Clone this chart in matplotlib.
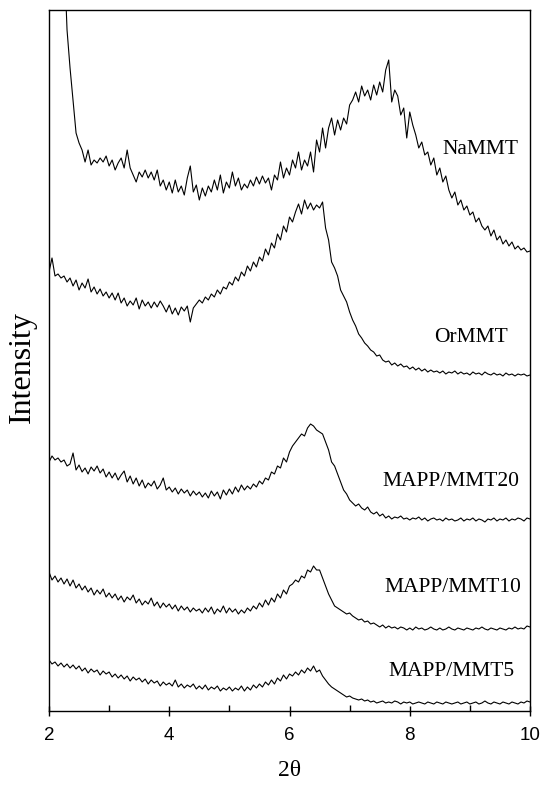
import matplotlib
matplotlib.use("Agg")
import matplotlib.pyplot as plt
import numpy as np

# XRD patterns, 2theta = 2..10 step 0.05 (rows of 10 = 0.5 deg each)
# intensities in arbitrary units, curves already offset as in the figure

na_mmt = [
    1400, 1300, 1150, 1000, 880, 760, 681, 643, 611, 578,
    568, 561, 549, 561, 546, 551, 548, 553, 549, 555,
    545, 551, 541, 548, 553, 543, 561, 543, 536, 529,
    539, 534, 541, 533, 539, 531, 541, 525, 531, 521,
    529, 518, 531, 519, 525, 516, 533, 545, 519, 526,
    511, 523, 515, 525, 519, 531, 521, 536, 518, 529,
    523, 539, 525, 533, 521, 527, 523, 531, 525, 534,
    527, 535, 528, 533, 521, 536, 531, 549, 533, 543,
    536, 551, 543, 559, 541, 551, 545, 559, 539, 571,
    559, 583, 563, 583, 593, 576, 591, 581, 593, 587,
    606, 611, 619, 609, 625, 615, 621, 611, 626, 616,
    629, 619, 641, 651, 609, 621, 615, 596, 603, 573,
    599, 586, 576, 563, 569, 556, 559, 546, 553, 536,
    543, 529, 535, 521, 513, 519, 506, 511, 501, 505,
    496, 499, 489, 493, 485, 481, 485, 475, 481, 471,
    475, 467, 471, 465, 469, 462, 465, 461, 463, 459,
    460,
]

or_mmt = [
    439, 453, 435, 437, 433, 435, 429, 433, 425, 431,
    421, 428, 423, 432, 419, 424, 417, 422, 415, 419,
    413, 418, 411, 418, 408, 413, 405, 410, 406, 413,
    402, 411, 405, 409, 403, 409, 404, 410, 405, 399,
    406, 397, 403, 396, 404, 400, 405, 389, 403, 407,
    411, 408, 414, 411, 417, 414, 421, 417, 424, 422,
    429, 426, 434, 430, 439, 435, 445, 440, 449, 444,
    454, 450, 462, 456, 468, 463, 477, 471, 485, 479,
    494, 489, 499, 507, 497, 511, 502, 508, 501, 506,
    503, 509, 483, 471, 449, 443, 435, 421, 415, 409,
    399, 391, 385, 377, 373, 368, 365, 361, 359, 355,
    356, 351, 349, 350, 346, 348, 345, 347, 344, 345,
    342, 344, 341, 343, 340, 342, 339, 341, 339, 340,
    338, 340, 337, 339, 338, 340, 337, 339, 337, 338,
    336, 339, 337, 338, 336, 339, 337, 336, 338, 336,
    337, 335, 338, 336, 337, 335, 337, 336, 337, 335,
    336,
]

mapp_mmt20 = [
    249, 255, 251, 253, 249, 251, 245, 247, 258, 241,
    246, 239, 243, 237, 244, 240, 245, 238, 242, 234,
    239, 233, 238, 231, 236, 240, 229, 235, 227, 233,
    225, 231, 223, 228, 225, 230, 222, 226, 233, 221,
    224, 219, 223, 217, 222, 218, 221, 215, 220, 216,
    219, 214, 218, 213, 220, 215, 219, 212, 221, 216,
    222, 217, 224, 219, 226, 221, 225, 222, 227, 224,
    230, 227, 233, 231, 239, 237, 245, 243, 253, 249,
    259, 265, 269, 273, 277, 275, 283, 287, 285, 281,
    279, 277, 269, 261, 249, 245, 237, 229, 221, 217,
    211, 208, 205, 207, 203, 201, 204, 199, 197, 199,
    195, 197, 193, 195, 192, 194, 193, 195, 192, 193,
    191, 193, 192, 194, 191, 193, 190, 192, 193, 191,
    192, 190, 193, 191, 192, 190, 191, 193, 190, 192,
    191, 193, 190, 192, 191, 189, 192, 191, 193, 190,
    192, 191, 193, 190, 192, 191, 193, 192, 190, 193,
    192,
]

mapp_mmt10 = [
    139, 131, 135, 129, 133, 127, 132, 125, 131, 123,
    127, 121, 125, 119, 123, 116, 121, 117, 122, 114,
    118, 113, 117, 111, 115, 109, 114, 111, 116, 108,
    112, 106, 110, 107, 113, 105, 109, 103, 108, 104,
    107, 102, 106, 100, 105, 101, 104, 99, 103, 100,
    102, 98, 103, 99, 104, 97, 102, 99, 105, 98,
    103, 99, 102, 97, 101, 98, 103, 100, 105, 102,
    108, 104, 111, 106, 113, 109, 117, 113, 121, 117,
    125, 127, 131, 129, 135, 133, 141, 139, 145, 141,
    141, 133, 125, 117, 111, 105, 103, 101, 99, 97,
    98, 95, 93, 91, 92, 89, 90, 87, 88, 86,
    84, 86, 83, 85, 83, 84, 82, 84, 83, 81,
    83, 81, 84, 82, 83, 81, 82, 84, 82, 81,
    83, 81, 82, 84, 82, 81, 83, 82, 81, 83,
    82, 81, 83, 82, 84, 82, 81, 83, 82, 81,
    83, 82, 81, 83, 82, 84, 82, 83, 82, 85,
    84,
]

mapp_mmt5 = [
    51, 47, 49, 45, 48, 44, 47, 43, 46, 42,
    45, 40, 43, 38, 42, 39, 41, 36, 40, 37,
    39, 34, 37, 33, 36, 32, 35, 30, 34, 31,
    33, 29, 32, 27, 31, 28, 30, 25, 29, 26,
    28, 25, 31, 24, 27, 23, 26, 24, 27, 22,
    25, 22, 26, 21, 24, 22, 25, 20, 23, 21,
    24, 20, 23, 21, 25, 20, 24, 21, 26, 23,
    27, 24, 29, 26, 31, 27, 33, 30, 36, 32,
    37, 35, 39, 36, 41, 38, 43, 40, 45, 39,
    41, 35, 31, 27, 24, 22, 20, 18, 16, 14,
    15, 13, 12, 11, 12, 10, 11, 9, 10, 8,
    9, 10, 8, 9, 8, 10, 9, 7, 9, 8,
    9, 7, 8, 9, 8, 7, 9, 8, 7, 9,
    8, 7, 9, 8, 7, 8, 9, 7, 8, 9,
    7, 8, 9, 7, 8, 10, 8, 7, 9, 8,
    7, 9, 8, 7, 9, 8, 7, 9, 8, 10,
    9,
]

series = [na_mmt, or_mmt, mapp_mmt20, mapp_mmt10, mapp_mmt5]
labels = ["NaMMT", "OrMMT", "MAPP/MMT20", "MAPP/MMT10", "MAPP/MMT5"]
label_pos = [(9.18, 561), (9.02, 374), (8.68, 230), (8.72, 123), (8.70, 39)]

serif = ["Liberation Serif", "DejaVu Serif"]
sans = ["Liberation Sans", "DejaVu Sans"]

fig = plt.figure(figsize=(5.44, 7.86), dpi=100)
ax = fig.add_axes([49 / 544, 75 / 786, 481 / 544, 701 / 786])

for ys in series:
    xs = 2 + 0.05 * np.arange(len(ys))
    ax.plot(xs, ys, color="black", lw=0.8)

for lab, (lx, ly) in zip(labels, label_pos):
    ax.text(lx, ly, lab, ha="center", va="center", fontsize=15.5, family=serif)

ax.set_xlim(2, 10)
ax.set_ylim(0, 701)
ax.set_xticks([2, 4, 6, 8, 10])
ax.set_xticks([3, 5, 7, 9], minor=True)
ax.set_yticks([])
ax.tick_params(axis="x", which="major", direction="inout", length=7, width=1,
               labelsize=13.5, pad=8)
ax.tick_params(axis="x", which="minor", direction="in", length=4, width=1)
for lbl in ax.get_xticklabels():
    lbl.set_family(sans)
for sp in ax.spines.values():
    sp.set_linewidth(1)

fig.text(290 / 544, 1 - 771 / 786, "2θ", ha="center", va="center", fontsize=17, family=serif)
fig.text(22 / 544, 1 - 367 / 786, "Intensity", ha="center", va="center", rotation=90,
         fontsize=23, family=serif)

fig.savefig("out.png", dpi=100)
